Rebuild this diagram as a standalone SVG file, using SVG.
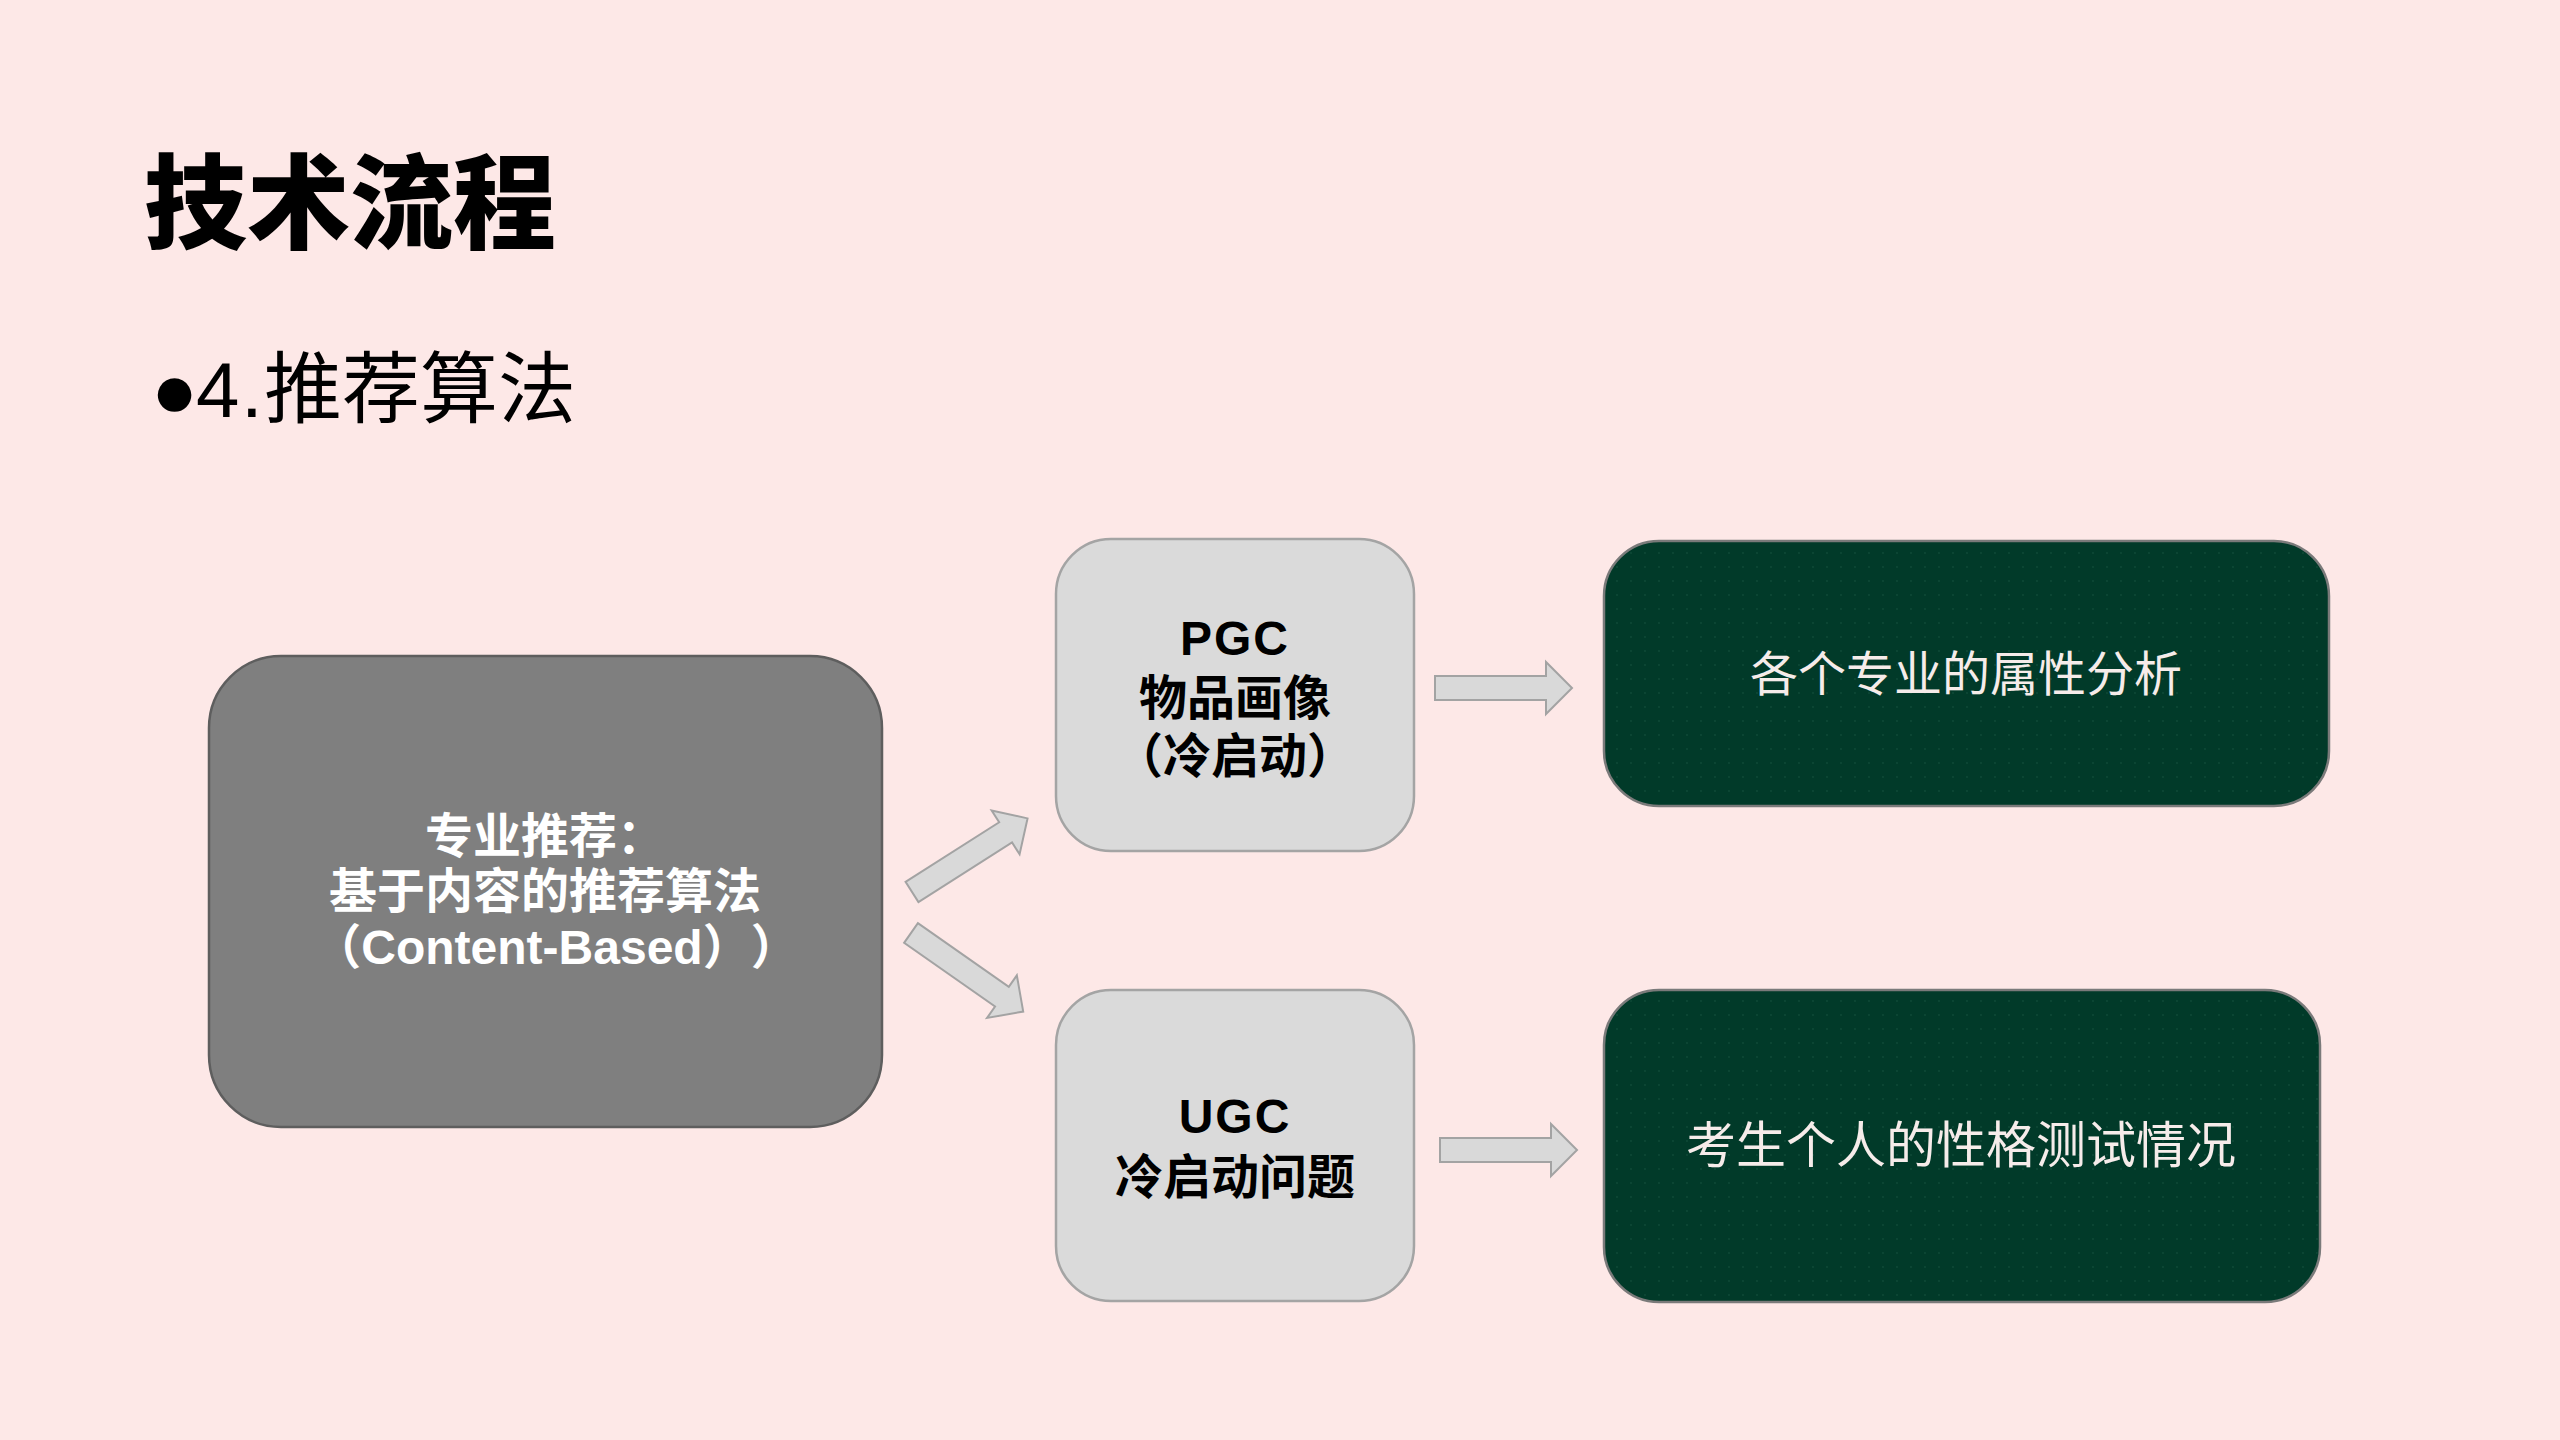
<svg xmlns="http://www.w3.org/2000/svg" width="2560" height="1440" viewBox="0 0 2560 1440">
<style>
.t{font-family:"Liberation Sans","Noto Sans CJK SC",sans-serif;text-spacing-trim:space-all}
.b{font-weight:bold}
.gray{fill:#7f7f7f;stroke:#5e5e5e;stroke-width:2.5}
.light{fill:#dadada;stroke:#a4a4a4;stroke-width:2.5}
.green{fill:#013a29;stroke:#7a7a7a;stroke-width:2.5}
.arrow{fill:#d9d9d9;stroke:#a3a3a3;stroke-width:2}
</style>
<defs>
<pattern id="dots" width="14" height="14" patternUnits="userSpaceOnUse">
<circle cx="7" cy="7" r="0.9" fill="#0f4a37"/>
</pattern>
<path id="blk" d="M0,-12 H111 V-26 L137,0 L111,26 V12 H0 Z"/>
</defs>
<rect width="2560" height="1440" fill="#fde8e7"/>
<g id="title">
<text class="t" x="144" y="241" font-size="103" font-weight="900" fill="#000">技术流程</text>
<text class="t" x="151" y="417" font-size="78" fill="#000"><tspan>●</tspan><tspan x="196">4</tspan><tspan x="241">.</tspan><tspan x="264">推荐算法</tspan></text>
</g>
<g id="connectors">
<use href="#blk" class="arrow" transform="translate(912,892) rotate(-32.5)"/>
<use href="#blk" class="arrow" transform="translate(911,933) rotate(35)"/>
<use href="#blk" class="arrow" transform="translate(1435,688)"/>
<use href="#blk" class="arrow" transform="translate(1440,1150)"/>
</g>
<g id="node-content-based">
<rect class="gray" x="209" y="656" width="673" height="471" rx="72"/>
<text class="t b" x="545" y="853" font-size="48" fill="#fff" text-anchor="middle">专业推荐：</text>
<text class="t b" x="545" y="908" font-size="48" fill="#fff" text-anchor="middle">基于内容的推荐算法</text>
<text class="t b" x="556" y="964" font-size="48" fill="#fff" text-anchor="middle">（Content-Based））</text>
</g>
<g id="node-pgc">
<rect class="light" x="1056" y="539" width="358" height="312" rx="55"/>
<text class="t b" x="1235" y="655" font-size="48" fill="#000" text-anchor="middle" letter-spacing="2">PGC</text>
<text class="t b" x="1235" y="715" font-size="48" fill="#000" text-anchor="middle">物品画像</text>
<text class="t b" x="1235" y="773" font-size="48" fill="#000" text-anchor="middle">（冷启动）</text>
</g>
<g id="node-ugc">
<rect class="light" x="1056" y="990" width="358" height="311" rx="55"/>
<text class="t b" x="1235" y="1133" font-size="48" fill="#000" text-anchor="middle" letter-spacing="2">UGC</text>
<text class="t b" x="1235" y="1194" font-size="48" fill="#000" text-anchor="middle">冷启动问题</text>
</g>
<g id="node-major-attr">
<rect class="green" x="1604" y="541" width="725" height="265" rx="55"/>
<rect x="1606" y="543" width="721" height="261" rx="53" fill="url(#dots)"/>
<text class="t" x="1966" y="691" font-size="48" fill="#f6ecea" text-anchor="middle">各个专业的属性分析</text>
</g>
<g id="node-personality">
<rect class="green" x="1604" y="990" width="716" height="312" rx="55"/>
<rect x="1606" y="992" width="712" height="308" rx="53" fill="url(#dots)"/>
<text class="t" x="1961" y="1163" font-size="50" fill="#f6ecea" text-anchor="middle">考生个人的性格测试情况</text>
</g>
</svg>
